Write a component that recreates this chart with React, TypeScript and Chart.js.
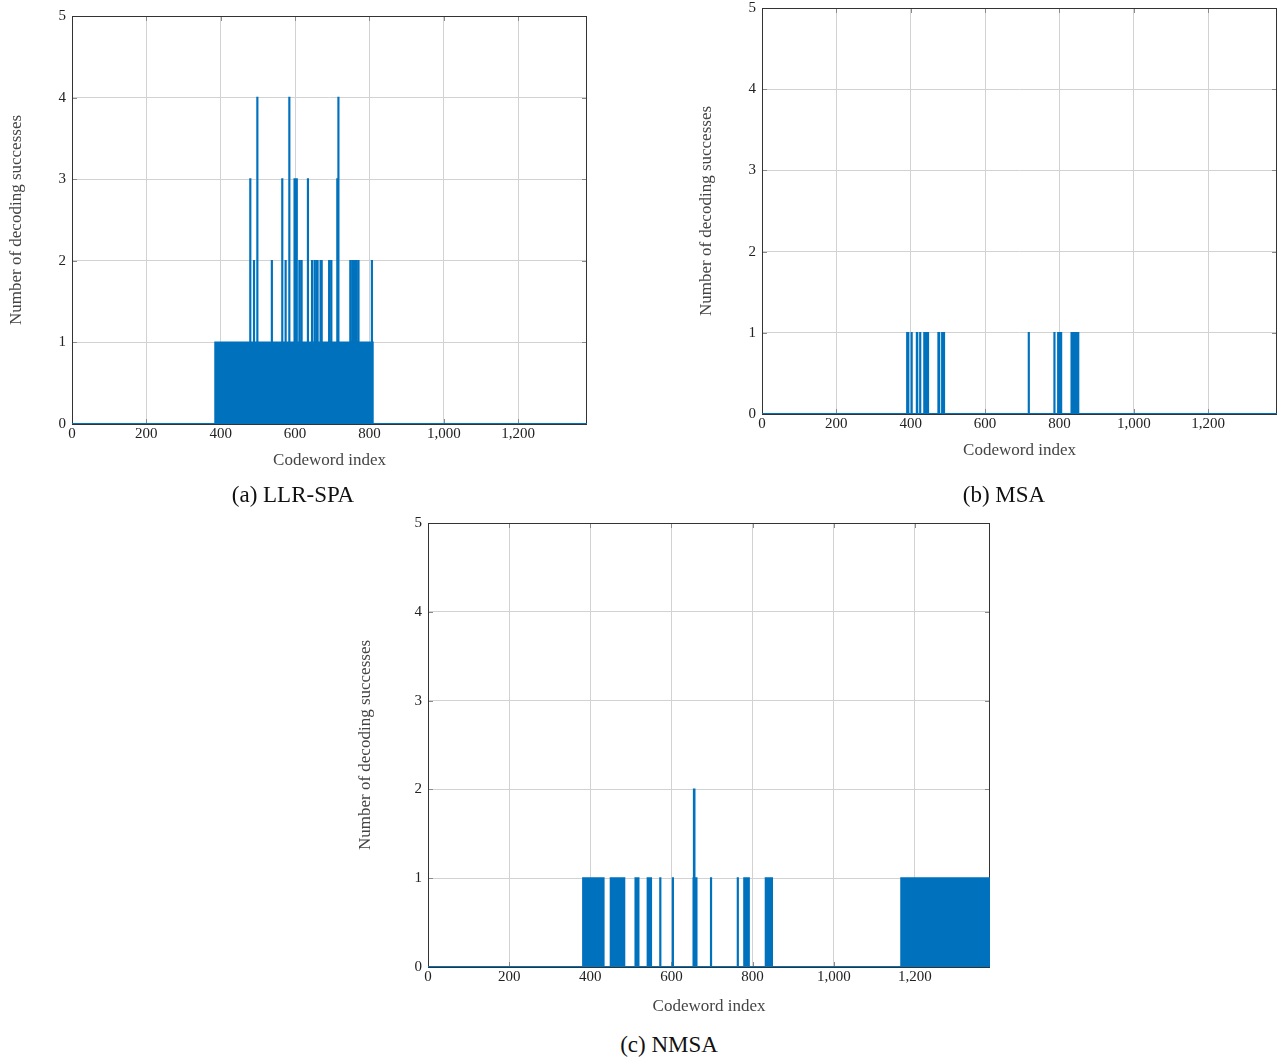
import React, { useEffect, useRef } from 'react';
import { Chart, registerables } from 'chart.js';

Chart.register(...registerables);

// ---------- data ----------
const X_MAX = 1385;
const Y_MAX = 5;
const xTickValues = [0, 200, 400, 600, 800, 1000, 1200];
const yTickValues = [0, 1, 2, 3, 4, 5];

// runs of codeword indices: [first index, last index, number of decoding successes]
const llrSpaRuns: [number, number, number][] = [
  [385, 808, 1],
  [479, 479, 3], [489, 489, 2], [498, 498, 4], [537, 537, 2], [565, 565, 3],
  [574, 574, 2], [584, 584, 4], [598, 598, 3], [601, 601, 3], [604, 604, 3],
  [611, 611, 2], [617, 617, 2], [634, 634, 3], [645, 645, 2], [652, 652, 2],
  [658, 658, 2], [660, 660, 2], [668, 668, 2], [671, 671, 2], [691, 691, 2],
  [697, 697, 2], [713, 713, 3], [716, 716, 4], [748, 748, 2], [754, 754, 2],
  [759, 759, 2], [764, 764, 2], [770, 770, 2], [806, 806, 2],
];

const msaRuns: [number, number, number][] = [
  [390, 393, 1], [402, 402, 1], [416, 417, 1], [425, 425, 1], [436, 446, 1],
  [474, 476, 1], [484, 489, 1], [717, 717, 1], [786, 786, 1], [796, 804, 1],
  [832, 850, 1],
];

const nmsaRuns: [number, number, number][] = [
  [382, 432, 1], [450, 483, 1], [511, 518, 1], [541, 549, 1], [572, 572, 1],
  [603, 603, 1], [654, 661, 1], [655, 656, 2], [697, 697, 1], [763, 763, 1],
  [779, 790, 1], [832, 847, 1], [1166, 1385, 1],
];

const X_TITLE = 'Codeword index';
const Y_TITLE = 'Number of decoding successes';

// ---------- styles ----------
const BLUE = '#0072bd';
const GRID = '#d2d2d2';
const TICK_COLOR = '#222';
const TITLE_COLOR = '#444';
const FONT_FAMILY = "'Liberation Serif', 'Times New Roman', serif";

function toSteps(runs: [number, number, number][]) {
  const v: number[] = new Array(X_MAX + 1).fill(0);
  for (const [a, b, c] of runs) {
    for (let i = a; i <= b; i++) v[i] = Math.max(v[i], c);
  }
  return v.map((y, x) => ({ x, y }));
}

const framePlugin = {
  id: 'frame',
  beforeDatasetsDraw(chart: any) {
    const { ctx, chartArea: a, scales } = chart;
    ctx.save();
    ctx.lineWidth = 1;
    ctx.strokeStyle = '#8a8a8a';
    ctx.beginPath();
    for (const t of scales.x.ticks) {
      const px = Math.round(scales.x.getPixelForValue(t.value)) + 0.5;
      ctx.moveTo(px, a.bottom);
      ctx.lineTo(px, a.bottom - 5);
      ctx.moveTo(px, a.top);
      ctx.lineTo(px, a.top + 5);
    }
    for (const t of scales.y.ticks) {
      const py = Math.round(scales.y.getPixelForValue(t.value)) + 0.5;
      ctx.moveTo(a.left, py);
      ctx.lineTo(a.left + 5, py);
      ctx.moveTo(a.right, py);
      ctx.lineTo(a.right - 5, py);
    }
    ctx.stroke();
    ctx.strokeStyle = '#333';
    ctx.strokeRect(
      Math.round(a.left) + 0.5,
      Math.round(a.top) + 0.5,
      Math.round(a.right - a.left) - 1,
      Math.round(a.bottom - a.top)
    );
    ctx.restore();
  },
};

type PanelProps = {
  runs: [number, number, number][];
  left: number;
  top: number;
  width: number;
  height: number;
  padR: number;
  padT: number;
  yW: number;
  xH: number;
  xTitlePad: number;
  yTitlePad: number;
};

function zeroPad(s: any) {
  s.paddingTop = 0;
  s.paddingBottom = 0;
  s.paddingLeft = 0;
  s.paddingRight = 0;
}

function Panel(p: PanelProps) {
  const ref = useRef<HTMLCanvasElement>(null);
  useEffect(() => {
    const tickFont = { family: FONT_FAMILY, size: 15 };
    const titleFont = { family: FONT_FAMILY, size: 17 };
    const chart = new Chart(ref.current as HTMLCanvasElement, {
      type: 'line',
      data: {
        datasets: [
          {
            data: toSteps(p.runs),
            stepped: true,
            fill: 'origin',
            borderColor: BLUE,
            backgroundColor: BLUE,
            borderWidth: 1.8,
            borderJoinStyle: 'miter',
            pointRadius: 0,
            tension: 0,
          } as any,
        ],
      },
      options: {
        animation: false,
        responsive: false,
        maintainAspectRatio: false,
        events: [],
        layout: { padding: { left: 0, right: p.padR, top: p.padT, bottom: 0 } },
        plugins: { legend: { display: false }, tooltip: { enabled: false } },
        scales: {
          x: {
            type: 'linear',
            min: 0,
            max: X_MAX,
            afterBuildTicks: (s: any) => {
              s.ticks = xTickValues.map((v) => ({ value: v }));
            },
            afterFit: (s: any) => {
              s.height = p.xH;
              zeroPad(s);
            },
            ticks: {
              padding: 1,
              color: TICK_COLOR,
              font: tickFont,
              maxRotation: 0,
              autoSkip: false,
              callback: (v: any) => Number(v).toLocaleString('en-US'),
            },
            grid: { color: GRID, drawTicks: false, lineWidth: 1 },
            border: { display: false },
            title: {
              display: true,
              text: X_TITLE,
              color: TITLE_COLOR,
              font: titleFont,
              padding: { top: 0, bottom: p.xTitlePad },
            },
          },
          y: {
            type: 'linear',
            min: 0,
            max: Y_MAX,
            afterBuildTicks: (s: any) => {
              s.ticks = yTickValues.map((v) => ({ value: v }));
            },
            afterFit: (s: any) => {
              s.width = p.yW;
              zeroPad(s);
            },
            ticks: {
              padding: 6,
              color: TICK_COLOR,
              font: tickFont,
              autoSkip: false,
            },
            grid: { color: GRID, drawTicks: false, lineWidth: 1 },
            border: { display: false },
            title: {
              display: true,
              text: Y_TITLE,
              color: TITLE_COLOR,
              font: titleFont,
              padding: { top: p.yTitlePad, bottom: 0 },
            },
          },
        },
      } as any,
      plugins: [framePlugin],
    });
    return () => chart.destroy();
  }, []);
  return (
    <canvas
      ref={ref}
      width={p.width}
      height={p.height}
      style={{ position: 'absolute', left: p.left, top: p.top, width: p.width, height: p.height }}
    />
  );
}

function Caption({ text, cx, cy }: { text: string; cx: number; cy: number }) {
  return (
    <div
      style={{
        position: 'absolute',
        left: cx - 200,
        top: cy - 13,
        width: 400,
        height: 26,
        lineHeight: '26px',
        textAlign: 'center',
        fontFamily: FONT_FAMILY,
        fontSize: 23,
        color: '#111',
        whiteSpace: 'nowrap',
      }}
    >
      {text}
    </div>
  );
}

export default function App() {
  return (
    <div style={{ position: 'absolute', left: 0, top: 0, width: 1281, height: 1059, background: '#fff' }}>
      <Panel runs={llrSpaRuns} left={0} top={0} width={600} height={480} padR={13} padT={16} yW={72} xH={56} xTitlePad={9} yTitlePad={6} />
      <Panel runs={msaRuns} left={690} top={0} width={591} height={470} padR={4} padT={8} yW={72} xH={56} xTitlePad={9} yTitlePad={6} />
      <Panel runs={nmsaRuns} left={349} top={507} width={651} height={516} padR={10} padT={16} yW={79} xH={56} xTitlePad={6} yTitlePad={6} />
      <Caption text="(a) LLR-SPA" cx={293} cy={495} />
      <Caption text="(b) MSA" cx={1004} cy={495} />
      <Caption text="(c) NMSA" cx={669} cy={1045} />
    </div>
  );
}
